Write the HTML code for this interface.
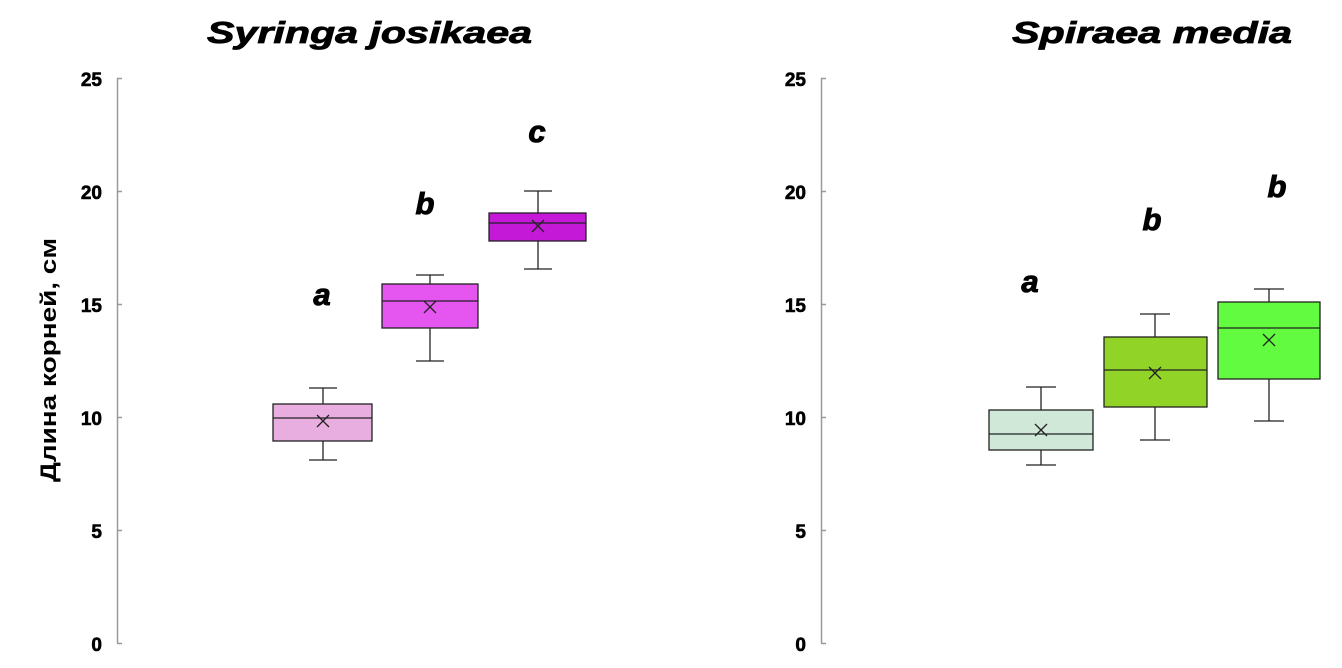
<!DOCTYPE html>
<html><head><meta charset="utf-8"><style>body{margin:0;background:#fff}svg{display:block}</style></head><body>
<svg width="1342" height="668" xmlns="http://www.w3.org/2000/svg" font-family="Liberation Sans, sans-serif">
<g font-weight="bold" font-style="italic" font-size="31" fill="#000" stroke="#000" stroke-width="0.8">
<text x="207" y="43" textLength="325" lengthAdjust="spacingAndGlyphs">Syringa josikaea</text>
<text x="1012" y="43" textLength="280" lengthAdjust="spacingAndGlyphs">Spiraea media</text>
</g>
<text transform="translate(56,482) rotate(-90)" font-size="22" font-weight="bold" textLength="244" lengthAdjust="spacingAndGlyphs">Длина корней, см</text>
<g stroke="#999" stroke-width="1.5">
<line x1="117.5" y1="78" x2="117.5" y2="643"/>
<line x1="821.5" y1="78" x2="821.5" y2="643"/>
<line x1="117" y1="78.5" x2="122" y2="78.5"/><line x1="117" y1="191.5" x2="122" y2="191.5"/><line x1="117" y1="304.5" x2="122" y2="304.5"/><line x1="117" y1="417.5" x2="122" y2="417.5"/><line x1="117" y1="530.5" x2="122" y2="530.5"/><line x1="117" y1="643.5" x2="122" y2="643.5"/>
<line x1="821" y1="78.5" x2="826" y2="78.5"/><line x1="821" y1="191.5" x2="826" y2="191.5"/><line x1="821" y1="304.5" x2="826" y2="304.5"/><line x1="821" y1="417.5" x2="826" y2="417.5"/><line x1="821" y1="530.5" x2="826" y2="530.5"/><line x1="821" y1="643.5" x2="826" y2="643.5"/>
</g>
<g font-size="19" font-weight="bold" text-anchor="end" stroke="#000" stroke-width="0.6">
<text x="102" y="86">25</text><text x="102" y="199">20</text><text x="102" y="312">15</text><text x="102" y="425">10</text><text x="102" y="538">5</text><text x="102" y="651">0</text>
<text x="806" y="86">25</text><text x="806" y="199">20</text><text x="806" y="312">15</text><text x="806" y="425">10</text><text x="806" y="538">5</text><text x="806" y="651">0</text>
</g>
<g font-size="31" font-weight="bold" font-style="italic" text-anchor="middle" stroke="#000" stroke-width="1">
<text x="322" y="305">a</text><text x="425" y="214">b</text><text x="537" y="142">c</text>
<text x="1030" y="292">a</text><text x="1152" y="230">b</text><text x="1277" y="197">b</text>
</g>
<g stroke="#222" stroke-width="1.3">
<line x1="323" y1="388" x2="323" y2="460"/><line x1="309" y1="388" x2="337" y2="388"/><line x1="309" y1="460" x2="337" y2="460"/>
<rect x="273" y="404" width="99" height="37" fill="#e8aee0"/><line x1="273" y1="418" x2="372" y2="418"/>
<path d="M317 415l12 12M329 415l-12 12"/>
<line x1="430" y1="275" x2="430" y2="361"/><line x1="416" y1="275" x2="444" y2="275"/><line x1="416" y1="361" x2="444" y2="361"/>
<rect x="382" y="284" width="96" height="44" fill="#e556f0"/><line x1="382" y1="301" x2="478" y2="301"/>
<path d="M424 301l12 12M436 301l-12 12"/>
<line x1="538" y1="191" x2="538" y2="269"/><line x1="524" y1="191" x2="552" y2="191"/><line x1="524" y1="269" x2="552" y2="269"/>
<rect x="489" y="213" width="97" height="28" fill="#c41ad8"/><line x1="489" y1="223" x2="586" y2="223"/>
<path d="M532 220l12 12M544 220l-12 12"/>
<line x1="1041" y1="387" x2="1041" y2="465"/><line x1="1026" y1="387" x2="1056" y2="387"/><line x1="1026" y1="465" x2="1056" y2="465"/>
<rect x="989" y="410" width="104" height="40" fill="#cfe8d8"/><line x1="989" y1="434" x2="1093" y2="434"/>
<path d="M1035 424l12 12M1047 424l-12 12"/>
<line x1="1155" y1="314" x2="1155" y2="440"/><line x1="1140" y1="314" x2="1170" y2="314"/><line x1="1140" y1="440" x2="1170" y2="440"/>
<rect x="1104" y="337" width="103" height="70" fill="#92d327"/><line x1="1104" y1="370" x2="1207" y2="370"/>
<path d="M1149 367l12 12M1161 367l-12 12"/>
<line x1="1269" y1="289" x2="1269" y2="421"/><line x1="1254" y1="289" x2="1284" y2="289"/><line x1="1254" y1="421" x2="1284" y2="421"/>
<rect x="1218" y="302" width="102" height="77" fill="#62fb3f"/><line x1="1218" y1="328" x2="1320" y2="328"/>
<path d="M1263 334l12 12M1275 334l-12 12"/>
</g>
</svg>
</body></html>
